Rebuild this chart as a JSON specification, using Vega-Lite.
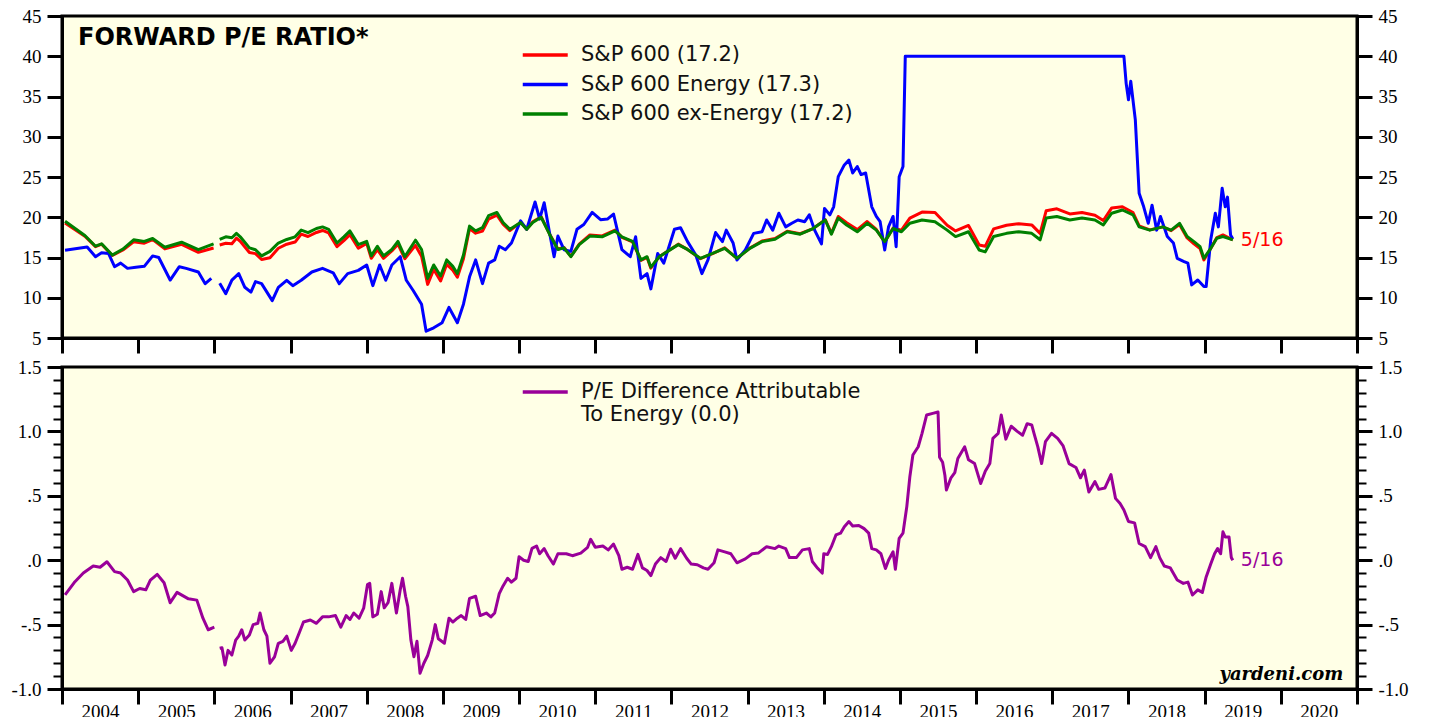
{
  "$schema": "https://vega.github.io/schema/vega-lite/v6.json",
  "background": "white",
  "padding": {"left": 9, "top": 5, "right": 5, "bottom": 0},
  "config": {
    "view": {"fill": "#FFFFE6", "stroke": "black", "strokeWidth": 3},
    "axis": {"domainColor": "black", "domainWidth": 3, "tickColor": "black", "tickWidth": 3, "tickSize": 15, "labelFont": "Liberation Serif", "labelFontSize": 19, "labelColor": "black", "labelPadding": 6, "grid": false, "title": null, "labelFlush": false, "labelOverlap": false},
    "legend": {"padding": 0, "labelFont": "DejaVu Sans", "labelFontSize": 21, "labelColor": "#111111", "labelLimit": 0, "symbolStrokeWidth": 3.5, "symbolType": "M-1,0H3", "symbolSize": 506, "labelOffset": 34, "rowPadding": 6.5}
  },
  "spacing": 29,
  "bounds": "flush",
  "resolve": {"scale": {"color": "independent"}},
  "vconcat": [
    {
      "width": 1295,
      "height": 322,
      "layer": [
        {
          "data": {"values": [
            {"s":"sp","g":1,"t":2004.04,"v":19.3},{"s":"sp","g":1,"t":2004.30,"v":17.65},{"s":"sp","g":1,"t":2004.44,"v":16.35},{"s":"sp","g":1,"t":2004.52,"v":16.65},{"s":"sp","g":1,"t":2004.66,"v":15.25},{"s":"sp","g":1,"t":2004.80,"v":15.93},{"s":"sp","g":1,"t":2004.94,"v":16.96},{"s":"sp","g":1,"t":2005.08,"v":16.78},{"s":"sp","g":1,"t":2005.19,"v":17.22},{"s":"sp","g":1,"t":2005.35,"v":16.07},{"s":"sp","g":1,"t":2005.57,"v":16.63},{"s":"sp","g":1,"t":2005.79,"v":15.65},{"s":"sp","g":1,"t":2005.99,"v":16.18},
            {"s":"sp","g":2,"t":2006.07,"v":16.56},{"s":"sp","g":2,"t":2006.15,"v":16.77},{"s":"sp","g":2,"t":2006.23,"v":16.71},{"s":"sp","g":2,"t":2006.29,"v":17.4},{"s":"sp","g":2,"t":2006.34,"v":17.02},{"s":"sp","g":2,"t":2006.46,"v":15.62},{"s":"sp","g":2,"t":2006.54,"v":15.48},{"s":"sp","g":2,"t":2006.62,"v":14.75},{"s":"sp","g":2,"t":2006.73,"v":14.96},{"s":"sp","g":2,"t":2006.84,"v":16.15},{"s":"sp","g":2,"t":2006.95,"v":16.65},{"s":"sp","g":2,"t":2007.06,"v":16.92},{"s":"sp","g":2,"t":2007.14,"v":17.9},{"s":"sp","g":2,"t":2007.23,"v":17.61},{"s":"sp","g":2,"t":2007.34,"v":18.11},{"s":"sp","g":2,"t":2007.42,"v":18.36},{"s":"sp","g":2,"t":2007.50,"v":18.06},{"s":"sp","g":2,"t":2007.61,"v":16.35},{"s":"sp","g":2,"t":2007.70,"v":17.09},{"s":"sp","g":2,"t":2007.78,"v":17.84},{"s":"sp","g":2,"t":2007.89,"v":16.15},{"s":"sp","g":2,"t":2008.00,"v":16.75},{"s":"sp","g":2,"t":2008.06,"v":14.9},{"s":"sp","g":2,"t":2008.14,"v":15.98},{"s":"sp","g":2,"t":2008.22,"v":14.9},{"s":"sp","g":2,"t":2008.33,"v":15.82},{"s":"sp","g":2,"t":2008.41,"v":16.65},{"s":"sp","g":2,"t":2008.50,"v":14.85},{"s":"sp","g":2,"t":2008.64,"v":16.5},{"s":"sp","g":2,"t":2008.72,"v":15.15},{"s":"sp","g":2,"t":2008.80,"v":11.66},{"s":"sp","g":2,"t":2008.88,"v":13.52},{"s":"sp","g":2,"t":2008.97,"v":12.08},{"s":"sp","g":2,"t":2009.05,"v":14.15},{"s":"sp","g":2,"t":2009.13,"v":13.42},{"s":"sp","g":2,"t":2009.19,"v":12.55},{"s":"sp","g":2,"t":2009.27,"v":14.85},{"s":"sp","g":2,"t":2009.35,"v":18.6},{"s":"sp","g":2,"t":2009.43,"v":18.02},{"s":"sp","g":2,"t":2009.52,"v":18.28},{"s":"sp","g":2,"t":2009.60,"v":19.78},{"s":"sp","g":2,"t":2009.71,"v":20.25},{"s":"sp","g":2,"t":2009.79,"v":19.15},{"s":"sp","g":2,"t":2009.88,"v":18.34},{"s":"sp","g":2,"t":2010.02,"v":19.37},{"s":"sp","g":2,"t":2010.10,"v":18.5},{"s":"sp","g":2,"t":2010.18,"v":19.44},{"s":"sp","g":2,"t":2010.29,"v":20.07},{"s":"sp","g":2,"t":2010.40,"v":17.93},{"s":"sp","g":2,"t":2010.51,"v":16.05},{"s":"sp","g":2,"t":2010.59,"v":16.25},{"s":"sp","g":2,"t":2010.68,"v":15.14},{"s":"sp","g":2,"t":2010.79,"v":16.65},{"s":"sp","g":2,"t":2010.93,"v":17.81},{"s":"sp","g":2,"t":2011.09,"v":17.68},{"s":"sp","g":2,"t":2011.26,"v":18.4},{"s":"sp","g":2,"t":2011.35,"v":17.5},{"s":"sp","g":2,"t":2011.49,"v":16.93},{"s":"sp","g":2,"t":2011.60,"v":14.65},{"s":"sp","g":2,"t":2011.68,"v":15.02},{"s":"sp","g":2,"t":2011.73,"v":13.68},{"s":"sp","g":2,"t":2011.84,"v":15.1},{"s":"sp","g":2,"t":2011.95,"v":15.79},{"s":"sp","g":2,"t":2012.09,"v":16.66},{"s":"sp","g":2,"t":2012.21,"v":16.01},{"s":"sp","g":2,"t":2012.38,"v":14.85},{"s":"sp","g":2,"t":2012.54,"v":15.47},{"s":"sp","g":2,"t":2012.70,"v":16.2},{"s":"sp","g":2,"t":2012.86,"v":14.88},{"s":"sp","g":2,"t":2013.03,"v":16.18},{"s":"sp","g":2,"t":2013.19,"v":17.05},{"s":"sp","g":2,"t":2013.36,"v":17.35},{"s":"sp","g":2,"t":2013.52,"v":18.26},{"s":"sp","g":2,"t":2013.69,"v":17.95},{"s":"sp","g":2,"t":2013.86,"v":18.6},{"s":"sp","g":2,"t":2014.02,"v":19.71},{"s":"sp","g":2,"t":2014.10,"v":18.0},{"s":"sp","g":2,"t":2014.19,"v":20.1},{"s":"sp","g":2,"t":2014.30,"v":19.32},{"s":"sp","g":2,"t":2014.44,"v":18.47},{"s":"sp","g":2,"t":2014.57,"v":19.47},{"s":"sp","g":2,"t":2014.69,"v":18.48},{"s":"sp","g":2,"t":2014.80,"v":16.91},{"s":"sp","g":2,"t":2014.91,"v":18.66},{"s":"sp","g":2,"t":2015.02,"v":18.4},{"s":"sp","g":2,"t":2015.13,"v":19.9},{"s":"sp","g":2,"t":2015.29,"v":20.64},{"s":"sp","g":2,"t":2015.46,"v":20.59},{"s":"sp","g":2,"t":2015.62,"v":19.0},{"s":"sp","g":2,"t":2015.73,"v":18.3},{"s":"sp","g":2,"t":2015.90,"v":18.98},{"s":"sp","g":2,"t":2016.04,"v":16.55},{"s":"sp","g":2,"t":2016.12,"v":16.39},{"s":"sp","g":2,"t":2016.23,"v":18.55},{"s":"sp","g":2,"t":2016.40,"v":19.0},{"s":"sp","g":2,"t":2016.56,"v":19.2},{"s":"sp","g":2,"t":2016.73,"v":19.05},{"s":"sp","g":2,"t":2016.84,"v":18.0},{"s":"sp","g":2,"t":2016.92,"v":20.82},{"s":"sp","g":2,"t":2017.06,"v":21.05},{"s":"sp","g":2,"t":2017.23,"v":20.41},{"s":"sp","g":2,"t":2017.39,"v":20.58},{"s":"sp","g":2,"t":2017.56,"v":20.26},{"s":"sp","g":2,"t":2017.67,"v":19.6},{"s":"sp","g":2,"t":2017.78,"v":21.16},{"s":"sp","g":2,"t":2017.92,"v":21.3},{"s":"sp","g":2,"t":2018.06,"v":20.59},{"s":"sp","g":2,"t":2018.14,"v":18.93},{"s":"sp","g":2,"t":2018.28,"v":18.43},{"s":"sp","g":2,"t":2018.45,"v":18.8},{"s":"sp","g":2,"t":2018.56,"v":18.34},{"s":"sp","g":2,"t":2018.67,"v":19.09},{"s":"sp","g":2,"t":2018.77,"v":17.43},{"s":"sp","g":2,"t":2018.86,"v":16.71},{"s":"sp","g":2,"t":2018.94,"v":16.11},{"s":"sp","g":2,"t":2018.99,"v":14.7},{"s":"sp","g":2,"t":2019.08,"v":16.11},{"s":"sp","g":2,"t":2019.16,"v":17.48},{"s":"sp","g":2,"t":2019.24,"v":17.8},{"s":"sp","g":2,"t":2019.37,"v":17.2},
            {"s":"en","g":1,"t":2004.04,"v":15.9},{"s":"en","g":1,"t":2004.33,"v":16.3},{"s":"en","g":1,"t":2004.44,"v":15.1},{"s":"en","g":1,"t":2004.52,"v":15.6},{"s":"en","g":1,"t":2004.61,"v":15.5},{"s":"en","g":1,"t":2004.69,"v":13.86},{"s":"en","g":1,"t":2004.77,"v":14.3},{"s":"en","g":1,"t":2004.86,"v":13.65},{"s":"en","g":1,"t":2004.97,"v":13.8},{"s":"en","g":1,"t":2005.08,"v":13.9},{"s":"en","g":1,"t":2005.19,"v":15.2},{"s":"en","g":1,"t":2005.27,"v":15.0},{"s":"en","g":1,"t":2005.42,"v":12.2},{"s":"en","g":1,"t":2005.54,"v":13.86},{"s":"en","g":1,"t":2005.63,"v":13.65},{"s":"en","g":1,"t":2005.79,"v":13.2},{"s":"en","g":1,"t":2005.88,"v":11.75},{"s":"en","g":1,"t":2005.96,"v":12.4},
            {"s":"en","g":2,"t":2006.07,"v":11.8},{"s":"en","g":2,"t":2006.15,"v":10.5},{"s":"en","g":2,"t":2006.23,"v":12.2},{"s":"en","g":2,"t":2006.32,"v":13.0},{"s":"en","g":2,"t":2006.40,"v":11.3},{"s":"en","g":2,"t":2006.48,"v":10.7},{"s":"en","g":2,"t":2006.54,"v":12.0},{"s":"en","g":2,"t":2006.62,"v":11.75},{"s":"en","g":2,"t":2006.76,"v":9.64},{"s":"en","g":2,"t":2006.84,"v":11.3},{"s":"en","g":2,"t":2006.95,"v":12.17},{"s":"en","g":2,"t":2007.03,"v":11.5},{"s":"en","g":2,"t":2007.14,"v":12.17},{"s":"en","g":2,"t":2007.28,"v":13.2},{"s":"en","g":2,"t":2007.42,"v":13.65},{"s":"en","g":2,"t":2007.56,"v":13.1},{"s":"en","g":2,"t":2007.64,"v":11.75},{"s":"en","g":2,"t":2007.75,"v":13.0},{"s":"en","g":2,"t":2007.89,"v":13.4},{"s":"en","g":2,"t":2008.00,"v":14.07},{"s":"en","g":2,"t":2008.08,"v":11.5},{"s":"en","g":2,"t":2008.17,"v":14.07},{"s":"en","g":2,"t":2008.25,"v":12.17},{"s":"en","g":2,"t":2008.33,"v":14.07},{"s":"en","g":2,"t":2008.44,"v":15.1},{"s":"en","g":2,"t":2008.52,"v":12.17},{"s":"en","g":2,"t":2008.61,"v":10.9},{"s":"en","g":2,"t":2008.72,"v":9.2},{"s":"en","g":2,"t":2008.78,"v":5.85},{"s":"en","g":2,"t":2008.88,"v":6.27},{"s":"en","g":2,"t":2008.99,"v":6.9},{"s":"en","g":2,"t":2009.08,"v":8.8},{"s":"en","g":2,"t":2009.19,"v":6.9},{"s":"en","g":2,"t":2009.27,"v":9.2},{"s":"en","g":2,"t":2009.35,"v":12.6},{"s":"en","g":2,"t":2009.43,"v":14.7},{"s":"en","g":2,"t":2009.52,"v":11.75},{"s":"en","g":2,"t":2009.60,"v":14.3},{"s":"en","g":2,"t":2009.68,"v":14.7},{"s":"en","g":2,"t":2009.74,"v":16.4},{"s":"en","g":2,"t":2009.82,"v":15.97},{"s":"en","g":2,"t":2009.90,"v":16.8},{"s":"en","g":2,"t":2010.02,"v":19.56},{"s":"en","g":2,"t":2010.10,"v":18.5},{"s":"en","g":2,"t":2010.21,"v":21.9},{"s":"en","g":2,"t":2010.27,"v":19.77},{"s":"en","g":2,"t":2010.33,"v":21.8},{"s":"en","g":2,"t":2010.40,"v":18.08},{"s":"en","g":2,"t":2010.46,"v":15.1},{"s":"en","g":2,"t":2010.51,"v":17.66},{"s":"en","g":2,"t":2010.59,"v":15.97},{"s":"en","g":2,"t":2010.68,"v":15.76},{"s":"en","g":2,"t":2010.76,"v":18.5},{"s":"en","g":2,"t":2010.85,"v":19.1},{"s":"en","g":2,"t":2010.96,"v":20.6},{"s":"en","g":2,"t":2011.07,"v":19.7},{"s":"en","g":2,"t":2011.16,"v":19.77},{"s":"en","g":2,"t":2011.24,"v":20.4},{"s":"en","g":2,"t":2011.35,"v":15.97},{"s":"en","g":2,"t":2011.46,"v":15.1},{"s":"en","g":2,"t":2011.53,"v":17.57},{"s":"en","g":2,"t":2011.60,"v":12.4},{"s":"en","g":2,"t":2011.68,"v":13.0},{"s":"en","g":2,"t":2011.73,"v":11.1},{"s":"en","g":2,"t":2011.82,"v":15.5},{"s":"en","g":2,"t":2011.90,"v":14.3},{"s":"en","g":2,"t":2012.04,"v":18.5},{"s":"en","g":2,"t":2012.12,"v":18.7},{"s":"en","g":2,"t":2012.21,"v":17.0},{"s":"en","g":2,"t":2012.32,"v":15.3},{"s":"en","g":2,"t":2012.40,"v":13.0},{"s":"en","g":2,"t":2012.48,"v":14.7},{"s":"en","g":2,"t":2012.58,"v":18.1},{"s":"en","g":2,"t":2012.67,"v":16.97},{"s":"en","g":2,"t":2012.72,"v":18.4},{"s":"en","g":2,"t":2012.81,"v":16.8},{"s":"en","g":2,"t":2012.86,"v":14.7},{"s":"en","g":2,"t":2012.97,"v":15.93},{"s":"en","g":2,"t":2013.08,"v":18.0},{"s":"en","g":2,"t":2013.19,"v":18.2},{"s":"en","g":2,"t":2013.25,"v":19.66},{"s":"en","g":2,"t":2013.33,"v":18.4},{"s":"en","g":2,"t":2013.41,"v":20.5},{"s":"en","g":2,"t":2013.50,"v":18.8},{"s":"en","g":2,"t":2013.58,"v":19.25},{"s":"en","g":2,"t":2013.66,"v":19.66},{"s":"en","g":2,"t":2013.75,"v":19.45},{"s":"en","g":2,"t":2013.81,"v":20.3},{"s":"en","g":2,"t":2013.88,"v":18.4},{"s":"en","g":2,"t":2013.97,"v":16.7},{"s":"en","g":2,"t":2014.01,"v":21.1},{"s":"en","g":2,"t":2014.08,"v":20.3},{"s":"en","g":2,"t":2014.13,"v":21.3},{"s":"en","g":2,"t":2014.19,"v":25.04},{"s":"en","g":2,"t":2014.27,"v":26.5},{"s":"en","g":2,"t":2014.33,"v":27.1},{"s":"en","g":2,"t":2014.38,"v":25.5},{"s":"en","g":2,"t":2014.44,"v":26.3},{"s":"en","g":2,"t":2014.49,"v":25.3},{"s":"en","g":2,"t":2014.55,"v":25.5},{"s":"en","g":2,"t":2014.63,"v":21.3},{"s":"en","g":2,"t":2014.69,"v":20.1},{"s":"en","g":2,"t":2014.74,"v":19.45},{"s":"en","g":2,"t":2014.80,"v":15.93},{"s":"en","g":2,"t":2014.85,"v":18.8},{"s":"en","g":2,"t":2014.91,"v":20.1},{"s":"en","g":2,"t":2014.95,"v":16.35},{"s":"en","g":2,"t":2014.99,"v":25.04},{"s":"en","g":2,"t":2015.04,"v":26.3},{"s":"en","g":2,"t":2015.07,"v":40.0},{"s":"en","g":2,"t":2017.94,"v":40.0},{"s":"en","g":2,"t":2017.97,"v":36.6},{"s":"en","g":2,"t":2018.00,"v":34.6},{"s":"en","g":2,"t":2018.03,"v":36.9},{"s":"en","g":2,"t":2018.09,"v":32.1},{"s":"en","g":2,"t":2018.14,"v":22.97},{"s":"en","g":2,"t":2018.20,"v":21.3},{"s":"en","g":2,"t":2018.26,"v":19.25},{"s":"en","g":2,"t":2018.31,"v":21.5},{"s":"en","g":2,"t":2018.37,"v":18.4},{"s":"en","g":2,"t":2018.42,"v":20.1},{"s":"en","g":2,"t":2018.51,"v":17.6},{"s":"en","g":2,"t":2018.59,"v":16.8},{"s":"en","g":2,"t":2018.64,"v":14.9},{"s":"en","g":2,"t":2018.73,"v":14.5},{"s":"en","g":2,"t":2018.78,"v":14.3},{"s":"en","g":2,"t":2018.83,"v":11.6},{"s":"en","g":2,"t":2018.91,"v":12.2},{"s":"en","g":2,"t":2018.99,"v":11.4},{"s":"en","g":2,"t":2019.02,"v":11.4},{"s":"en","g":2,"t":2019.08,"v":17.2},{"s":"en","g":2,"t":2019.14,"v":20.5},{"s":"en","g":2,"t":2019.18,"v":18.8},{"s":"en","g":2,"t":2019.23,"v":23.6},{"s":"en","g":2,"t":2019.27,"v":21.3},{"s":"en","g":2,"t":2019.30,"v":22.5},{"s":"en","g":2,"t":2019.34,"v":17.8},{"s":"en","g":2,"t":2019.37,"v":17.3},
            {"s":"ex","g":1,"t":2004.04,"v":19.5},{"s":"ex","g":1,"t":2004.30,"v":17.74},{"s":"ex","g":1,"t":2004.44,"v":16.4},{"s":"ex","g":1,"t":2004.52,"v":16.7},{"s":"ex","g":1,"t":2004.66,"v":15.3},{"s":"ex","g":1,"t":2004.80,"v":16.05},{"s":"ex","g":1,"t":2004.94,"v":17.2},{"s":"ex","g":1,"t":2005.08,"v":17.0},{"s":"ex","g":1,"t":2005.19,"v":17.36},{"s":"ex","g":1,"t":2005.35,"v":16.27},{"s":"ex","g":1,"t":2005.57,"v":16.9},{"s":"ex","g":1,"t":2005.79,"v":15.97},{"s":"ex","g":1,"t":2005.99,"v":16.7},
            {"s":"ex","g":2,"t":2006.07,"v":17.24},{"s":"ex","g":2,"t":2006.15,"v":17.57},{"s":"ex","g":2,"t":2006.23,"v":17.45},{"s":"ex","g":2,"t":2006.29,"v":18.0},{"s":"ex","g":2,"t":2006.34,"v":17.57},{"s":"ex","g":2,"t":2006.46,"v":16.2},{"s":"ex","g":2,"t":2006.54,"v":15.97},{"s":"ex","g":2,"t":2006.62,"v":15.2},{"s":"ex","g":2,"t":2006.73,"v":15.76},{"s":"ex","g":2,"t":2006.84,"v":16.8},{"s":"ex","g":2,"t":2006.95,"v":17.24},{"s":"ex","g":2,"t":2007.06,"v":17.57},{"s":"ex","g":2,"t":2007.14,"v":18.4},{"s":"ex","g":2,"t":2007.23,"v":18.08},{"s":"ex","g":2,"t":2007.34,"v":18.6},{"s":"ex","g":2,"t":2007.42,"v":18.8},{"s":"ex","g":2,"t":2007.50,"v":18.5},{"s":"ex","g":2,"t":2007.61,"v":16.8},{"s":"ex","g":2,"t":2007.70,"v":17.57},{"s":"ex","g":2,"t":2007.78,"v":18.3},{"s":"ex","g":2,"t":2007.89,"v":16.6},{"s":"ex","g":2,"t":2008.00,"v":17.0},{"s":"ex","g":2,"t":2008.06,"v":15.2},{"s":"ex","g":2,"t":2008.14,"v":16.4},{"s":"ex","g":2,"t":2008.22,"v":15.2},{"s":"ex","g":2,"t":2008.33,"v":16.0},{"s":"ex","g":2,"t":2008.41,"v":17.0},{"s":"ex","g":2,"t":2008.50,"v":15.1},{"s":"ex","g":2,"t":2008.64,"v":17.15},{"s":"ex","g":2,"t":2008.72,"v":16.0},{"s":"ex","g":2,"t":2008.80,"v":12.4},{"s":"ex","g":2,"t":2008.88,"v":14.07},{"s":"ex","g":2,"t":2008.97,"v":12.7},{"s":"ex","g":2,"t":2009.05,"v":14.7},{"s":"ex","g":2,"t":2009.13,"v":13.9},{"s":"ex","g":2,"t":2009.19,"v":13.0},{"s":"ex","g":2,"t":2009.27,"v":15.3},{"s":"ex","g":2,"t":2009.35,"v":18.9},{"s":"ex","g":2,"t":2009.43,"v":18.3},{"s":"ex","g":2,"t":2009.52,"v":18.7},{"s":"ex","g":2,"t":2009.60,"v":20.2},{"s":"ex","g":2,"t":2009.71,"v":20.6},{"s":"ex","g":2,"t":2009.79,"v":19.35},{"s":"ex","g":2,"t":2009.88,"v":18.5},{"s":"ex","g":2,"t":2010.02,"v":19.35},{"s":"ex","g":2,"t":2010.10,"v":18.5},{"s":"ex","g":2,"t":2010.18,"v":19.35},{"s":"ex","g":2,"t":2010.29,"v":20.0},{"s":"ex","g":2,"t":2010.40,"v":17.9},{"s":"ex","g":2,"t":2010.51,"v":16.0},{"s":"ex","g":2,"t":2010.59,"v":16.2},{"s":"ex","g":2,"t":2010.68,"v":15.1},{"s":"ex","g":2,"t":2010.79,"v":16.6},{"s":"ex","g":2,"t":2010.93,"v":17.66},{"s":"ex","g":2,"t":2011.09,"v":17.57},{"s":"ex","g":2,"t":2011.26,"v":18.3},{"s":"ex","g":2,"t":2011.35,"v":17.57},{"s":"ex","g":2,"t":2011.49,"v":17.0},{"s":"ex","g":2,"t":2011.60,"v":14.7},{"s":"ex","g":2,"t":2011.68,"v":15.1},{"s":"ex","g":2,"t":2011.73,"v":13.8},{"s":"ex","g":2,"t":2011.84,"v":15.1},{"s":"ex","g":2,"t":2011.95,"v":15.76},{"s":"ex","g":2,"t":2012.09,"v":16.6},{"s":"ex","g":2,"t":2012.21,"v":16.0},{"s":"ex","g":2,"t":2012.38,"v":14.9},{"s":"ex","g":2,"t":2012.54,"v":15.5},{"s":"ex","g":2,"t":2012.70,"v":16.14},{"s":"ex","g":2,"t":2012.86,"v":14.9},{"s":"ex","g":2,"t":2013.03,"v":16.14},{"s":"ex","g":2,"t":2013.19,"v":16.97},{"s":"ex","g":2,"t":2013.36,"v":17.26},{"s":"ex","g":2,"t":2013.52,"v":18.2},{"s":"ex","g":2,"t":2013.69,"v":17.9},{"s":"ex","g":2,"t":2013.86,"v":18.6},{"s":"ex","g":2,"t":2014.02,"v":19.66},{"s":"ex","g":2,"t":2014.10,"v":17.9},{"s":"ex","g":2,"t":2014.19,"v":19.9},{"s":"ex","g":2,"t":2014.30,"v":19.04},{"s":"ex","g":2,"t":2014.44,"v":18.2},{"s":"ex","g":2,"t":2014.57,"v":19.25},{"s":"ex","g":2,"t":2014.69,"v":18.4},{"s":"ex","g":2,"t":2014.80,"v":16.97},{"s":"ex","g":2,"t":2014.91,"v":18.6},{"s":"ex","g":2,"t":2015.02,"v":18.2},{"s":"ex","g":2,"t":2015.13,"v":19.25},{"s":"ex","g":2,"t":2015.29,"v":19.66},{"s":"ex","g":2,"t":2015.46,"v":19.45},{"s":"ex","g":2,"t":2015.62,"v":18.4},{"s":"ex","g":2,"t":2015.73,"v":17.6},{"s":"ex","g":2,"t":2015.90,"v":18.2},{"s":"ex","g":2,"t":2016.04,"v":15.93},{"s":"ex","g":2,"t":2016.12,"v":15.7},{"s":"ex","g":2,"t":2016.23,"v":17.6},{"s":"ex","g":2,"t":2016.40,"v":18.0},{"s":"ex","g":2,"t":2016.56,"v":18.2},{"s":"ex","g":2,"t":2016.73,"v":18.0},{"s":"ex","g":2,"t":2016.84,"v":17.2},{"s":"ex","g":2,"t":2016.92,"v":19.9},{"s":"ex","g":2,"t":2017.06,"v":20.1},{"s":"ex","g":2,"t":2017.23,"v":19.66},{"s":"ex","g":2,"t":2017.39,"v":19.9},{"s":"ex","g":2,"t":2017.56,"v":19.66},{"s":"ex","g":2,"t":2017.67,"v":19.04},{"s":"ex","g":2,"t":2017.78,"v":20.5},{"s":"ex","g":2,"t":2017.92,"v":20.9},{"s":"ex","g":2,"t":2018.06,"v":20.3},{"s":"ex","g":2,"t":2018.14,"v":18.8},{"s":"ex","g":2,"t":2018.28,"v":18.4},{"s":"ex","g":2,"t":2018.45,"v":18.8},{"s":"ex","g":2,"t":2018.56,"v":18.4},{"s":"ex","g":2,"t":2018.67,"v":19.25},{"s":"ex","g":2,"t":2018.77,"v":17.6},{"s":"ex","g":2,"t":2018.86,"v":16.97},{"s":"ex","g":2,"t":2018.94,"v":16.35},{"s":"ex","g":2,"t":2018.99,"v":14.9},{"s":"ex","g":2,"t":2019.08,"v":16.14},{"s":"ex","g":2,"t":2019.16,"v":17.4},{"s":"ex","g":2,"t":2019.24,"v":17.6},{"s":"ex","g":2,"t":2019.37,"v":17.2}
          ]},
          "mark": {"type": "line", "strokeWidth": 3, "strokeJoin": "round"},
          "encoding": {
            "x": {"field": "t", "type": "quantitative", "scale": {"domain": [2004, 2021], "nice": false, "zero": false}, "axis": {"orient": "bottom", "values": [2004,2005,2006,2007,2008,2009,2010,2011,2012,2013,2014,2015,2016,2017,2018,2019,2020,2021], "labels": false}},
            "y": {"field": "v", "type": "quantitative", "scale": {"domain": [5, 45], "nice": false, "zero": false}, "axis": {"orient": "left", "values": [5,10,15,20,25,30,35,40,45], "labelFont": "Liberation Serif", "labelFontSize": 19}},
            "color": {"field": "s", "type": "nominal", "scale": {"domain": ["sp", "en", "ex"], "range": ["#FF0000", "#0000FF", "#008000"]}, "legend": {"orient": "none", "legendX": 459, "legendY": 26, "title": null, "labelExpr": "datum.label == 'sp' ? 'S&P 600 (17.2)' : datum.label == 'en' ? 'S&P 600 Energy (17.3)' : 'S&P 600 ex-Energy (17.2)'"}},
            "detail": {"field": "g", "type": "nominal"}
          }
        },
        {
          "data": {"values": [{"t": 2019.37, "v": 17.2, "lab": "5/16"}]},
          "mark": {"type": "text", "align": "left", "baseline": "middle", "dx": 8, "font": "DejaVu Sans", "fontSize": 19, "color": "#FF0000"},
          "encoding": {
            "x": {"field": "t", "type": "quantitative"},
            "y": {"field": "v", "type": "quantitative", "scale": {"domain": [5, 45], "nice": false, "zero": false}, "axis": {"orient": "right", "values": [5,10,15,20,25,30,35,40,45], "labelFont": "Liberation Serif", "labelFontSize": 19}},
            "text": {"field": "lab"}
          }
        },
        {
          "data": {"values": [{"t": 2004.21, "v": 41.4, "lab": "FORWARD P/E RATIO*"}]},
          "mark": {"type": "text", "align": "left", "baseline": "alphabetic", "font": "DejaVu Sans", "fontSize": 24, "fontWeight": "bold", "color": "black"},
          "encoding": {
            "x": {"field": "t", "type": "quantitative"},
            "y": {"field": "v", "type": "quantitative", "scale": {"domain": [5, 45], "nice": false, "zero": false}, "axis": null},
            "text": {"field": "lab"}
          }
        }
      ],
      "resolve": {"scale": {"y": "independent"}}
    },
    {
      "width": 1295,
      "height": 322,
      "layer": [
        {
          "mark": {"type": "rule", "color": "black", "strokeWidth": 1.5},
          "encoding": {"y": {"datum": 0, "type": "quantitative", "scale": {"domain": [-1, 1.5], "nice": false, "zero": false}, "axis": null}}
        },
        {
          "data": {"values": [
            {"s":"d","g":1,"t":2004.04,"v":-0.27},{"s":"d","g":1,"t":2004.17,"v":-0.167},{"s":"d","g":1,"t":2004.28,"v":-0.10},{"s":"d","g":1,"t":2004.41,"v":-0.045},{"s":"d","g":1,"t":2004.50,"v":-0.055},{"s":"d","g":1,"t":2004.59,"v":-0.012},{"s":"d","g":1,"t":2004.69,"v":-0.089},{"s":"d","g":1,"t":2004.77,"v":-0.10},{"s":"d","g":1,"t":2004.86,"v":-0.154},{"s":"d","g":1,"t":2004.94,"v":-0.244},{"s":"d","g":1,"t":2005.02,"v":-0.22},{"s":"d","g":1,"t":2005.10,"v":-0.23},{"s":"d","g":1,"t":2005.16,"v":-0.154},{"s":"d","g":1,"t":2005.25,"v":-0.11},{"s":"d","g":1,"t":2005.34,"v":-0.175},{"s":"d","g":1,"t":2005.42,"v":-0.33},{"s":"d","g":1,"t":2005.51,"v":-0.25},{"s":"d","g":1,"t":2005.66,"v":-0.30},{"s":"d","g":1,"t":2005.77,"v":-0.31},{"s":"d","g":1,"t":2005.85,"v":-0.45},{"s":"d","g":1,"t":2005.92,"v":-0.54},{"s":"d","g":1,"t":2006.00,"v":-0.52},
            {"s":"d","g":2,"t":2006.07,"v":-0.684},{"s":"d","g":2,"t":2006.10,"v":-0.68},{"s":"d","g":2,"t":2006.14,"v":-0.814},{"s":"d","g":2,"t":2006.18,"v":-0.70},{"s":"d","g":2,"t":2006.23,"v":-0.736},{"s":"d","g":2,"t":2006.28,"v":-0.62},{"s":"d","g":2,"t":2006.32,"v":-0.59},{"s":"d","g":2,"t":2006.36,"v":-0.54},{"s":"d","g":2,"t":2006.40,"v":-0.62},{"s":"d","g":2,"t":2006.46,"v":-0.58},{"s":"d","g":2,"t":2006.51,"v":-0.50},{"s":"d","g":2,"t":2006.57,"v":-0.49},{"s":"d","g":2,"t":2006.60,"v":-0.41},{"s":"d","g":2,"t":2006.65,"v":-0.54},{"s":"d","g":2,"t":2006.69,"v":-0.59},{"s":"d","g":2,"t":2006.73,"v":-0.80},{"s":"d","g":2,"t":2006.79,"v":-0.75},{"s":"d","g":2,"t":2006.84,"v":-0.645},{"s":"d","g":2,"t":2006.90,"v":-0.63},{"s":"d","g":2,"t":2006.95,"v":-0.59},{"s":"d","g":2,"t":2007.01,"v":-0.70},{"s":"d","g":2,"t":2007.06,"v":-0.645},{"s":"d","g":2,"t":2007.12,"v":-0.555},{"s":"d","g":2,"t":2007.17,"v":-0.48},{"s":"d","g":2,"t":2007.26,"v":-0.464},{"s":"d","g":2,"t":2007.34,"v":-0.49},{"s":"d","g":2,"t":2007.42,"v":-0.44},{"s":"d","g":2,"t":2007.50,"v":-0.44},{"s":"d","g":2,"t":2007.59,"v":-0.43},{"s":"d","g":2,"t":2007.66,"v":-0.52},{"s":"d","g":2,"t":2007.73,"v":-0.43},{"s":"d","g":2,"t":2007.78,"v":-0.46},{"s":"d","g":2,"t":2007.83,"v":-0.41},{"s":"d","g":2,"t":2007.90,"v":-0.45},{"s":"d","g":2,"t":2007.96,"v":-0.373},{"s":"d","g":2,"t":2008.01,"v":-0.19},{"s":"d","g":2,"t":2008.04,"v":-0.18},{"s":"d","g":2,"t":2008.08,"v":-0.44},{"s":"d","g":2,"t":2008.14,"v":-0.42},{"s":"d","g":2,"t":2008.19,"v":-0.244},{"s":"d","g":2,"t":2008.23,"v":-0.37},{"s":"d","g":2,"t":2008.28,"v":-0.33},{"s":"d","g":2,"t":2008.33,"v":-0.18},{"s":"d","g":2,"t":2008.39,"v":-0.41},{"s":"d","g":2,"t":2008.44,"v":-0.23},{"s":"d","g":2,"t":2008.47,"v":-0.14},{"s":"d","g":2,"t":2008.51,"v":-0.28},{"s":"d","g":2,"t":2008.54,"v":-0.36},{"s":"d","g":2,"t":2008.58,"v":-0.62},{"s":"d","g":2,"t":2008.62,"v":-0.75},{"s":"d","g":2,"t":2008.66,"v":-0.63},{"s":"d","g":2,"t":2008.70,"v":-0.878},{"s":"d","g":2,"t":2008.75,"v":-0.80},{"s":"d","g":2,"t":2008.80,"v":-0.74},{"s":"d","g":2,"t":2008.86,"v":-0.62},{"s":"d","g":2,"t":2008.90,"v":-0.50},{"s":"d","g":2,"t":2008.94,"v":-0.61},{"s":"d","g":2,"t":2009.02,"v":-0.645},{"s":"d","g":2,"t":2009.08,"v":-0.45},{"s":"d","g":2,"t":2009.13,"v":-0.48},{"s":"d","g":2,"t":2009.19,"v":-0.45},{"s":"d","g":2,"t":2009.24,"v":-0.43},{"s":"d","g":2,"t":2009.30,"v":-0.46},{"s":"d","g":2,"t":2009.35,"v":-0.296},{"s":"d","g":2,"t":2009.43,"v":-0.28},{"s":"d","g":2,"t":2009.49,"v":-0.43},{"s":"d","g":2,"t":2009.57,"v":-0.41},{"s":"d","g":2,"t":2009.63,"v":-0.44},{"s":"d","g":2,"t":2009.68,"v":-0.41},{"s":"d","g":2,"t":2009.74,"v":-0.26},{"s":"d","g":2,"t":2009.79,"v":-0.20},{"s":"d","g":2,"t":2009.85,"v":-0.14},{"s":"d","g":2,"t":2009.90,"v":-0.17},{"s":"d","g":2,"t":2009.96,"v":-0.14},{"s":"d","g":2,"t":2010.00,"v":0.027},{"s":"d","g":2,"t":2010.06,"v":0.0},{"s":"d","g":2,"t":2010.12,"v":-0.01},{"s":"d","g":2,"t":2010.17,"v":0.092},{"s":"d","g":2,"t":2010.23,"v":0.11},{"s":"d","g":2,"t":2010.27,"v":0.05},{"s":"d","g":2,"t":2010.33,"v":0.09},{"s":"d","g":2,"t":2010.38,"v":0.035},{"s":"d","g":2,"t":2010.45,"v":-0.03},{"s":"d","g":2,"t":2010.51,"v":0.05},{"s":"d","g":2,"t":2010.62,"v":0.05},{"s":"d","g":2,"t":2010.70,"v":0.035},{"s":"d","g":2,"t":2010.81,"v":0.055},{"s":"d","g":2,"t":2010.90,"v":0.10},{"s":"d","g":2,"t":2010.94,"v":0.162},{"s":"d","g":2,"t":2011.00,"v":0.10},{"s":"d","g":2,"t":2011.10,"v":0.11},{"s":"d","g":2,"t":2011.17,"v":0.08},{"s":"d","g":2,"t":2011.24,"v":0.125},{"s":"d","g":2,"t":2011.31,"v":0.035},{"s":"d","g":2,"t":2011.35,"v":-0.07},{"s":"d","g":2,"t":2011.42,"v":-0.055},{"s":"d","g":2,"t":2011.49,"v":-0.07},{"s":"d","g":2,"t":2011.56,"v":0.045},{"s":"d","g":2,"t":2011.62,"v":-0.06},{"s":"d","g":2,"t":2011.68,"v":-0.08},{"s":"d","g":2,"t":2011.73,"v":-0.12},{"s":"d","g":2,"t":2011.79,"v":-0.03},{"s":"d","g":2,"t":2011.86,"v":0.02},{"s":"d","g":2,"t":2011.93,"v":-0.01},{"s":"d","g":2,"t":2011.99,"v":0.085},{"s":"d","g":2,"t":2012.05,"v":0.015},{"s":"d","g":2,"t":2012.12,"v":0.09},{"s":"d","g":2,"t":2012.20,"v":0.015},{"s":"d","g":2,"t":2012.26,"v":-0.03},{"s":"d","g":2,"t":2012.34,"v":-0.035},{"s":"d","g":2,"t":2012.42,"v":-0.06},{"s":"d","g":2,"t":2012.48,"v":-0.07},{"s":"d","g":2,"t":2012.56,"v":-0.02},{"s":"d","g":2,"t":2012.61,"v":0.08},{"s":"d","g":2,"t":2012.70,"v":0.065},{"s":"d","g":2,"t":2012.78,"v":0.05},{"s":"d","g":2,"t":2012.86,"v":-0.02},{"s":"d","g":2,"t":2012.97,"v":0.01},{"s":"d","g":2,"t":2013.06,"v":0.05},{"s":"d","g":2,"t":2013.14,"v":0.055},{"s":"d","g":2,"t":2013.25,"v":0.105},{"s":"d","g":2,"t":2013.36,"v":0.09},{"s":"d","g":2,"t":2013.41,"v":0.11},{"s":"d","g":2,"t":2013.50,"v":0.09},{"s":"d","g":2,"t":2013.55,"v":0.02},{"s":"d","g":2,"t":2013.64,"v":0.02},{"s":"d","g":2,"t":2013.72,"v":0.08},{"s":"d","g":2,"t":2013.81,"v":0.09},{"s":"d","g":2,"t":2013.85,"v":-0.01},{"s":"d","g":2,"t":2013.92,"v":-0.063},{"s":"d","g":2,"t":2013.98,"v":-0.10},{"s":"d","g":2,"t":2014.00,"v":0.05},{"s":"d","g":2,"t":2014.05,"v":0.045},{"s":"d","g":2,"t":2014.10,"v":0.105},{"s":"d","g":2,"t":2014.16,"v":0.196},{"s":"d","g":2,"t":2014.22,"v":0.21},{"s":"d","g":2,"t":2014.27,"v":0.26},{"s":"d","g":2,"t":2014.33,"v":0.30},{"s":"d","g":2,"t":2014.38,"v":0.265},{"s":"d","g":2,"t":2014.46,"v":0.27},{"s":"d","g":2,"t":2014.53,"v":0.245},{"s":"d","g":2,"t":2014.59,"v":0.21},{"s":"d","g":2,"t":2014.63,"v":0.09},{"s":"d","g":2,"t":2014.69,"v":0.08},{"s":"d","g":2,"t":2014.75,"v":0.05},{"s":"d","g":2,"t":2014.81,"v":-0.065},{"s":"d","g":2,"t":2014.85,"v":0.0},{"s":"d","g":2,"t":2014.91,"v":0.065},{"s":"d","g":2,"t":2014.94,"v":-0.07},{"s":"d","g":2,"t":2014.99,"v":0.17},{"s":"d","g":2,"t":2015.04,"v":0.21},{"s":"d","g":2,"t":2015.09,"v":0.416},{"s":"d","g":2,"t":2015.13,"v":0.648},{"s":"d","g":2,"t":2015.17,"v":0.817},{"s":"d","g":2,"t":2015.24,"v":0.881},{"s":"d","g":2,"t":2015.29,"v":0.985},{"s":"d","g":2,"t":2015.35,"v":1.127},{"s":"d","g":2,"t":2015.43,"v":1.14},{"s":"d","g":2,"t":2015.50,"v":1.15},{"s":"d","g":2,"t":2015.52,"v":0.80},{"s":"d","g":2,"t":2015.56,"v":0.76},{"s":"d","g":2,"t":2015.59,"v":0.66},{"s":"d","g":2,"t":2015.61,"v":0.545},{"s":"d","g":2,"t":2015.67,"v":0.64},{"s":"d","g":2,"t":2015.72,"v":0.68},{"s":"d","g":2,"t":2015.76,"v":0.79},{"s":"d","g":2,"t":2015.85,"v":0.88},{"s":"d","g":2,"t":2015.90,"v":0.78},{"s":"d","g":2,"t":2015.98,"v":0.75},{"s":"d","g":2,"t":2016.06,"v":0.595},{"s":"d","g":2,"t":2016.12,"v":0.69},{"s":"d","g":2,"t":2016.18,"v":0.75},{"s":"d","g":2,"t":2016.22,"v":0.946},{"s":"d","g":2,"t":2016.29,"v":0.985},{"s":"d","g":2,"t":2016.33,"v":1.127},{"s":"d","g":2,"t":2016.39,"v":0.94},{"s":"d","g":2,"t":2016.46,"v":1.04},{"s":"d","g":2,"t":2016.54,"v":1.0},{"s":"d","g":2,"t":2016.61,"v":0.97},{"s":"d","g":2,"t":2016.67,"v":1.06},{"s":"d","g":2,"t":2016.73,"v":1.05},{"s":"d","g":2,"t":2016.76,"v":0.985},{"s":"d","g":2,"t":2016.81,"v":0.88},{"s":"d","g":2,"t":2016.86,"v":0.75},{"s":"d","g":2,"t":2016.91,"v":0.92},{"s":"d","g":2,"t":2016.99,"v":0.985},{"s":"d","g":2,"t":2017.07,"v":0.946},{"s":"d","g":2,"t":2017.14,"v":0.89},{"s":"d","g":2,"t":2017.22,"v":0.75},{"s":"d","g":2,"t":2017.31,"v":0.72},{"s":"d","g":2,"t":2017.37,"v":0.64},{"s":"d","g":2,"t":2017.42,"v":0.70},{"s":"d","g":2,"t":2017.48,"v":0.53},{"s":"d","g":2,"t":2017.56,"v":0.61},{"s":"d","g":2,"t":2017.61,"v":0.55},{"s":"d","g":2,"t":2017.69,"v":0.56},{"s":"d","g":2,"t":2017.77,"v":0.665},{"s":"d","g":2,"t":2017.83,"v":0.48},{"s":"d","g":2,"t":2017.89,"v":0.44},{"s":"d","g":2,"t":2017.94,"v":0.39},{"s":"d","g":2,"t":2018.00,"v":0.30},{"s":"d","g":2,"t":2018.08,"v":0.29},{"s":"d","g":2,"t":2018.14,"v":0.13},{"s":"d","g":2,"t":2018.22,"v":0.105},{"s":"d","g":2,"t":2018.29,"v":0.02},{"s":"d","g":2,"t":2018.36,"v":0.105},{"s":"d","g":2,"t":2018.41,"v":0.02},{"s":"d","g":2,"t":2018.47,"v":-0.045},{"s":"d","g":2,"t":2018.55,"v":-0.06},{"s":"d","g":2,"t":2018.64,"v":-0.154},{"s":"d","g":2,"t":2018.72,"v":-0.18},{"s":"d","g":2,"t":2018.78,"v":-0.17},{"s":"d","g":2,"t":2018.84,"v":-0.27},{"s":"d","g":2,"t":2018.91,"v":-0.23},{"s":"d","g":2,"t":2018.97,"v":-0.25},{"s":"d","g":2,"t":2019.02,"v":-0.13},{"s":"d","g":2,"t":2019.08,"v":-0.03},{"s":"d","g":2,"t":2019.13,"v":0.05},{"s":"d","g":2,"t":2019.17,"v":0.09},{"s":"d","g":2,"t":2019.21,"v":0.05},{"s":"d","g":2,"t":2019.24,"v":0.22},{"s":"d","g":2,"t":2019.27,"v":0.18},{"s":"d","g":2,"t":2019.32,"v":0.18},{"s":"d","g":2,"t":2019.35,"v":0.02},{"s":"d","g":2,"t":2019.37,"v":0.0}
          ]},
          "mark": {"type": "line", "strokeWidth": 3, "strokeJoin": "round"},
          "encoding": {
            "x": {"field": "t", "type": "quantitative", "scale": {"domain": [2004, 2021], "nice": false, "zero": false}, "axis": {"orient": "bottom", "values": [2004,2005,2006,2007,2008,2009,2010,2011,2012,2013,2014,2015,2016,2017,2018,2019,2020,2021], "labelExpr": "datum.value == 2021 ? '' : '' + datum.value", "labelOffset": 38, "labelAlign": "center", "labelPadding": -2, "labelBound": false, "labelFont": "Liberation Serif", "labelFontSize": 19}},
            "y": {"field": "v", "type": "quantitative", "scale": {"domain": [-1, 1.5], "nice": false, "zero": false}, "axis": {"orient": "left", "values": [-1,-0.9,-0.8,-0.7,-0.6,-0.5,-0.4,-0.3,-0.2,-0.1,0,0.1,0.2,0.3,0.4,0.5,0.6,0.7,0.8,0.9,1,1.1,1.2,1.3,1.4,1.5], "labelFont": "Liberation Serif", "labelFontSize": 19, "tickSize": {"condition": {"test": "abs(datum.value*2 - round(datum.value*2)) < 0.001", "value": 15}, "value": 9}, "tickWidth": {"condition": {"test": "abs(datum.value*2 - round(datum.value*2)) < 0.001", "value": 3}, "value": 2}, "labelExpr": "datum.value == 1.5 ? '1.5' : datum.value == 1 ? '1.0' : datum.value == 0.5 ? '.5' : datum.value == 0 ? '.0' : datum.value == -0.5 ? '-.5' : datum.value == -1 ? '-1.0' : ''"}},
            "color": {"field": "s", "type": "nominal", "scale": {"domain": ["d"], "range": ["#990099"]}, "legend": {"orient": "none", "legendX": 459, "legendY": 12, "title": null, "labelExpr": "['P/E Difference Attributable', 'To Energy (0.0)']"}},
            "detail": {"field": "g", "type": "nominal"}
          }
        },
        {
          "data": {"values": [{"t": 2019.37, "v": 0.0, "lab": "5/16"}]},
          "mark": {"type": "text", "align": "left", "baseline": "middle", "dx": 8, "font": "DejaVu Sans", "fontSize": 19, "color": "#990099"},
          "encoding": {
            "x": {"field": "t", "type": "quantitative"},
            "y": {"field": "v", "type": "quantitative", "scale": {"domain": [-1, 1.5], "nice": false, "zero": false}, "axis": {"orient": "right", "values": [-1,-0.9,-0.8,-0.7,-0.6,-0.5,-0.4,-0.3,-0.2,-0.1,0,0.1,0.2,0.3,0.4,0.5,0.6,0.7,0.8,0.9,1,1.1,1.2,1.3,1.4,1.5], "labelFont": "Liberation Serif", "labelFontSize": 19, "tickSize": {"condition": {"test": "abs(datum.value*2 - round(datum.value*2)) < 0.001", "value": 15}, "value": 9}, "tickWidth": {"condition": {"test": "abs(datum.value*2 - round(datum.value*2)) < 0.001", "value": 3}, "value": 2}, "labelExpr": "datum.value == 1.5 ? '1.5' : datum.value == 1 ? '1.0' : datum.value == 0.5 ? '.5' : datum.value == 0 ? '.0' : datum.value == -0.5 ? '-.5' : datum.value == -1 ? '-1.0' : ''"}},
            "text": {"field": "lab"}
          }
        },
        {
          "data": {"values": [{"t": 2020.82, "v": -0.93, "lab": "yardeni.com"}]},
          "mark": {"type": "text", "align": "right", "baseline": "alphabetic", "font": "DejaVu Serif", "fontSize": 18, "fontWeight": "bold", "fontStyle": "italic", "color": "black"},
          "encoding": {
            "x": {"field": "t", "type": "quantitative"},
            "y": {"field": "v", "type": "quantitative", "scale": {"domain": [-1, 1.5], "nice": false, "zero": false}, "axis": null},
            "text": {"field": "lab"}
          }
        }
      ],
      "resolve": {"scale": {"y": "independent"}}
    }
  ]
}
